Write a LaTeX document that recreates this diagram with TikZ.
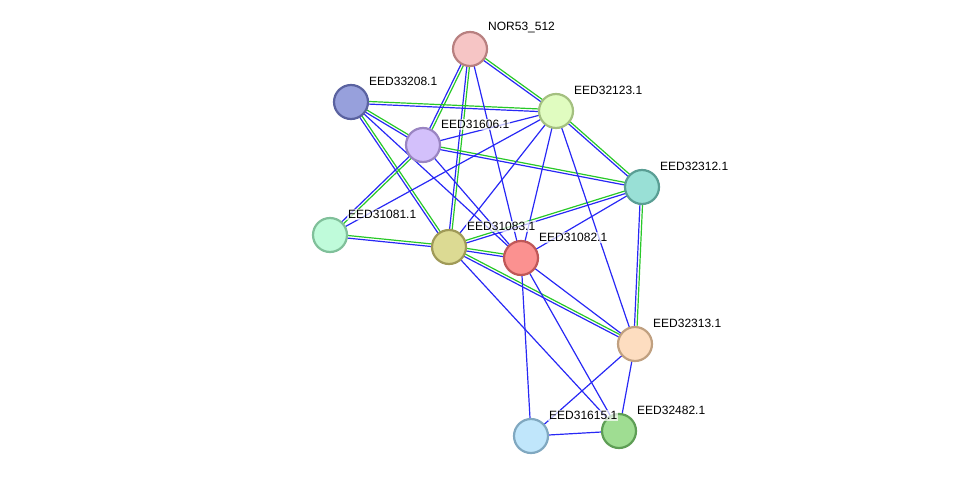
\documentclass[tikz,border=0pt]{standalone}
\usepackage{fontspec}
\setmainfont{Liberation Sans}
\usetikzlibrary{calc}
\begin{document}
\begin{tikzpicture}[x=1pt,y=-1pt,
  prot/.style={circle,minimum size=34pt,inner sep=0pt,line width=2.2pt},
  lab/.style={font=\fontsize{12}{12}\selectfont,anchor=south west,inner sep=1pt,fill=white,fill opacity=0.7,text opacity=1},
  blu/.style={draw={rgb,255:red,40;green,40;blue,245},line width=1.2pt},
  grn/.style={draw={rgb,255:red,40;green,200;blue,40},line width=1.2pt}]
\newcommand\gbedge[2]{\draw[grn] ($(#1)!1.3pt!90:(#2)$) -- ($(#2)!1.3pt!-90:(#1)$);
  \draw[blu] ($(#1)!1.3pt!-90:(#2)$) -- ($(#2)!1.3pt!90:(#1)$);}
\newcommand\bedge[2]{\draw[blu] (#1) -- (#2);}
\useasboundingbox (0,0) rectangle (976,482);
\coordinate (nor) at (470,49);
\coordinate (e208) at (351,102);
\coordinate (e123) at (556,111);
\coordinate (e606) at (423,145);
\coordinate (e312) at (642,187);
\coordinate (e081) at (330,235);
\coordinate (e083) at (449,247);
\coordinate (e082) at (521,258);
\coordinate (e313) at (635,344);
\coordinate (e615) at (531,436);
\coordinate (e482) at (619,431);
\gbedge{nor}{e123}\gbedge{nor}{e606}\gbedge{nor}{e083}
\gbedge{e208}{e123}\gbedge{e208}{e606}\gbedge{e208}{e083}
\gbedge{e123}{e312}\gbedge{e606}{e312}\gbedge{e606}{e081}
\gbedge{e081}{e083}\gbedge{e083}{e082}\gbedge{e083}{e312}
\gbedge{e083}{e313}\gbedge{e312}{e313}
\bedge{nor}{e082}\bedge{e208}{e082}\bedge{e606}{e082}\bedge{e606}{e123}
\bedge{e123}{e081}\bedge{e123}{e083}\bedge{e123}{e082}\bedge{e123}{e313}
\bedge{e312}{e082}\bedge{e083}{e482}\bedge{e082}{e313}\bedge{e082}{e615}
\bedge{e082}{e482}\bedge{e313}{e615}\bedge{e313}{e482}\bedge{e615}{e482}
\node[prot,fill={rgb,255:red,246;green,197;blue,197},draw={rgb,255:red,184;green,128;blue,128}] (n1) at (nor) {};
\node[prot,fill={rgb,255:red,151;green,160;blue,220},draw={rgb,255:red,90;green,98;blue,160}] (n2) at (e208) {};
\node[prot,fill={rgb,255:red,224;green,252;blue,192},draw={rgb,255:red,164;green,192;blue,128}] (n3) at (e123) {};
\node[prot,fill={rgb,255:red,211;green,192;blue,251},draw={rgb,255:red,154;green,133;blue,194}] (n4) at (e606) {};
\node[prot,fill={rgb,255:red,153;green,224;blue,214},draw={rgb,255:red,90;green,158;blue,148}] (n5) at (e312) {};
\node[prot,fill={rgb,255:red,191;green,251;blue,218},draw={rgb,255:red,128;green,192;blue,154}] (n6) at (e081) {};
\node[prot,fill={rgb,255:red,220;green,218;blue,147},draw={rgb,255:red,160;green,154;blue,88}] (n7) at (e083) {};
\node[prot,fill={rgb,255:red,251;green,145;blue,144},draw={rgb,255:red,192;green,88;blue,88}] (n8) at (e082) {};
\node[prot,fill={rgb,255:red,253;green,221;blue,192},draw={rgb,255:red,192;green,160;blue,128}] (n9) at (e313) {};
\node[prot,fill={rgb,255:red,192;green,230;blue,251},draw={rgb,255:red,128;green,168;blue,192}] (n10) at (e615) {};
\node[prot,fill={rgb,255:red,159;green,221;blue,146},draw={rgb,255:red,94;green,158;blue,85}] (n11) at (e482) {};
\node[lab] (l1) at (487,34) {NOR53\_512};
\node[lab] (l2) at (368,87) {EED33208.1};
\node[lab] (l3) at (573,96) {EED32123.1};
\node[lab] (l4) at (440,130) {EED31606.1};
\node[lab] (l5) at (659,172) {EED32312.1};
\node[lab] (l6) at (347,220) {EED31081.1};
\node[lab] (l7) at (466,232) {EED31083.1};
\node[lab] (l8) at (538,243) {EED31082.1};
\node[lab] (l9) at (652,329) {EED32313.1};
\node[lab] (l10) at (548,421) {EED31615.1};
\node[lab] (l11) at (636,416) {EED32482.1};
\end{tikzpicture}
\end{document}
